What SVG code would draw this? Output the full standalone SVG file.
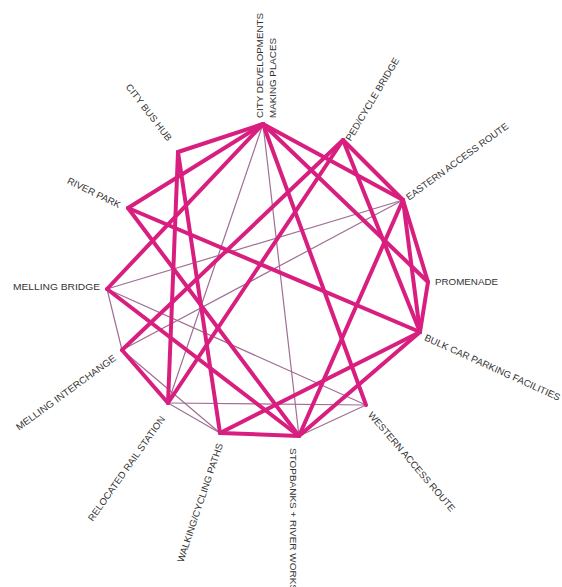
<svg xmlns="http://www.w3.org/2000/svg" width="562" height="587" viewBox="0 0 562 587">
  <style>
    .k { stroke: #d81f7f; stroke-width: 4; stroke-linecap: round; fill: none; }
    .t { stroke: #9f6f93; stroke-width: 1.2; stroke-linecap: round; fill: none; }
    .lbl { font-family: "Liberation Sans", Arial, sans-serif; font-size: 9.5px; fill: #333333; }
  </style>
  <rect width="562" height="587" fill="#ffffff"/>

  <!-- thin links -->
  <g id="links-thin" class="t">
    <line x1="263" y1="124" x2="168" y2="403"/>
    <line x1="263" y1="124" x2="299" y2="436"/>
    <line x1="107" y1="289" x2="403" y2="200"/>
    <line x1="122" y1="350" x2="403" y2="200"/>
    <line x1="107" y1="289" x2="366" y2="405"/>
    <line x1="107" y1="289" x2="122" y2="350"/>
    <line x1="122" y1="350" x2="220" y2="433"/>
    <line x1="168" y1="403" x2="366" y2="405"/>
    <line x1="299" y1="436" x2="366" y2="405"/>
    <line x1="168" y1="403" x2="220" y2="433"/>
  </g>

  <!-- thick links -->
  <g id="links-thick" class="k">
    <line x1="263" y1="124" x2="178" y2="152"/>
    <line x1="263" y1="124" x2="128" y2="208"/>
    <line x1="263" y1="124" x2="107" y2="289"/>
    <line x1="263" y1="124" x2="403" y2="200"/>
    <line x1="263" y1="124" x2="366" y2="405"/>
    <line x1="263" y1="124" x2="428" y2="282"/>
    <line x1="178" y1="152" x2="168" y2="403"/>
    <line x1="178" y1="152" x2="220" y2="433"/>
    <line x1="128" y1="208" x2="420" y2="332"/>
    <line x1="128" y1="208" x2="299" y2="436"/>
    <line x1="107" y1="289" x2="299" y2="436"/>
    <line x1="122" y1="350" x2="168" y2="403"/>
    <line x1="122" y1="350" x2="343" y2="140"/>
    <line x1="168" y1="403" x2="343" y2="140"/>
    <line x1="220" y1="433" x2="299" y2="436"/>
    <line x1="220" y1="433" x2="420" y2="332"/>
    <line x1="299" y1="436" x2="420" y2="332"/>
    <line x1="299" y1="436" x2="403" y2="200"/>
    <line x1="343" y1="140" x2="403" y2="200"/>
    <line x1="343" y1="140" x2="420" y2="332"/>
    <line x1="403" y1="200" x2="428" y2="282"/>
    <line x1="428" y1="282" x2="420" y2="332"/>
    <line x1="403" y1="200" x2="420" y2="332"/>
  </g>

  <!-- nodes: one label per place -->
  <g id="node-city-developments" class="lbl">
    <text transform="translate(260,118) rotate(-90)" y="3.3" textLength="105" lengthAdjust="spacingAndGlyphs">CITY DEVELOPMENTS</text>
    <text transform="translate(273,118) rotate(-90)" y="3.3" textLength="80" lengthAdjust="spacingAndGlyphs">MAKING PLACES</text>
  </g>
  <g id="node-city-bus-hub" class="lbl">
    <text transform="translate(128,85) rotate(52.6)" y="3.3" textLength="69" lengthAdjust="spacingAndGlyphs">CITY BUS HUB</text>
  </g>
  <g id="node-river-park" class="lbl">
    <text transform="translate(68,180) rotate(26)" y="3.3" textLength="58" lengthAdjust="spacingAndGlyphs">RIVER PARK</text>
  </g>
  <g id="node-melling-bridge" class="lbl">
    <text transform="translate(13,287)" y="3.3" textLength="87" lengthAdjust="spacingAndGlyphs">MELLING BRIDGE</text>
  </g>
  <g id="node-melling-interchange" class="lbl">
    <text transform="translate(17,428) rotate(-36)" y="3.3" textLength="121" lengthAdjust="spacingAndGlyphs">MELLING INTERCHANGE</text>
  </g>
  <g id="node-relocated-rail-station" class="lbl">
    <text transform="translate(90,520) rotate(-54.7)" y="3.3" textLength="126" lengthAdjust="spacingAndGlyphs">RELOCATED RAIL STATION</text>
  </g>
  <g id="node-walking-cycling" class="lbl">
    <text transform="translate(180,562) rotate(-71.4)" y="3.3" textLength="125" lengthAdjust="spacingAndGlyphs">WALKING/CYCLING PATHS</text>
  </g>
  <g id="node-stopbanks" class="lbl">
    <text transform="translate(293,448) rotate(90)" y="3.3" textLength="143" lengthAdjust="spacingAndGlyphs">STOPBANKS + RIVER WORKS</text>
  </g>
  <g id="node-western-access" class="lbl">
    <text transform="translate(370,413) rotate(49.4)" y="3.3" textLength="128" lengthAdjust="spacingAndGlyphs">WESTERN ACCESS ROUTE</text>
  </g>
  <g id="node-bulk-car-parking" class="lbl">
    <text transform="translate(425,337) rotate(24.3)" y="3.3" textLength="148" lengthAdjust="spacingAndGlyphs">BULK CAR PARKING FACILITIES</text>
  </g>
  <g id="node-promenade" class="lbl">
    <text transform="translate(435,282)" y="3.3" textLength="63" lengthAdjust="spacingAndGlyphs">PROMENADE</text>
  </g>
  <g id="node-eastern-access" class="lbl">
    <text transform="translate(407,198) rotate(-36.1)" y="3.3" textLength="124" lengthAdjust="spacingAndGlyphs">EASTERN ACCESS ROUTE</text>
  </g>
  <g id="node-ped-cycle-bridge" class="lbl">
    <text transform="translate(348,140) rotate(-59.1)" y="3.3" textLength="95" lengthAdjust="spacingAndGlyphs">PED/CYCLE BRIDGE</text>
  </g>
</svg>
